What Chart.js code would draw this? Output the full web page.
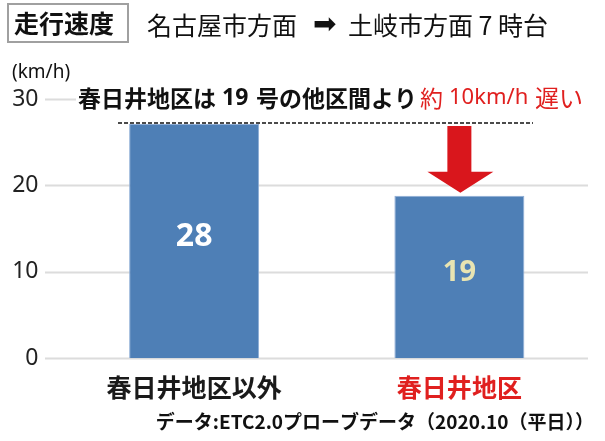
<!DOCTYPE html>
<html>
<head>
<meta charset="utf-8">
<script src="https://cdn.jsdelivr.net/npm/chart.js@4"></script>
<style>
  html, body { margin: 0; padding: 0; background: #fff; }
  #wrap { width: 605px; height: 441px; position: relative; }
</style>
</head>
<body>
<div id="wrap"><canvas id="c" width="605" height="441"></canvas></div>
<script>
// 走行速度: 名古屋市方面 → 土岐市方面 7時台

const categories = ["春日井地区以外", "春日井地区"];
const speeds = [27.1, 18.8];          // km/h, as drawn
const speedLabels = ["28", "19"];     // printed inside the bars
const yTicks = [0, 10, 20, 30];

const JP = '"Noto Sans CJK JP", "DejaVu Sans", sans-serif';
const NUM = '"Noto Sans", "Open Sans", sans-serif';
const BAR = "#4e7fb6";
const RED = "#e0201f";
const catColors = ["#1a1a1a", RED];
const labelColors = ["#ffffff", "#e8e4b2"];

// annotation pieces: [text, x, font, colour]
const note = [
  ["春日井地区は", 78, `bold 23px ${JP}`, "#111"],
  ["19", 222, `bold 23px ${NUM}`, "#111"],
  ["号の他区間より", 256, `bold 23px ${JP}`, "#111"],
  ["約", 420, `23px ${JP}`, RED],
  ["10km/h", 449, `22px ${NUM}`, RED],
  ["遅い", 535, `24px ${JP}`, RED]
];

const deco = {
  id: "deco",
  beforeDatasetsDraw(chart) {
    const { ctx, scales: { y } } = chart;
    ctx.save();
    ctx.strokeStyle = "#dcdcdc";
    ctx.lineWidth = 2;
    yTicks.forEach(v => {
      const py = Math.round(y.getPixelForValue(v)) + 0.5;
      ctx.beginPath(); ctx.moveTo(45, py); ctx.lineTo(588, py); ctx.stroke();
    });
    ctx.restore();
  },
  afterDatasetsDraw(chart) {
    const { ctx, scales: { y } } = chart;
    const meta = chart.getDatasetMeta(0);
    ctx.save();

    // values inside bars
    ctx.textAlign = "center";
    ctx.textBaseline = "middle";
    meta.data.forEach((b, i) => {
      ctx.fillStyle = labelColors[i];
      ctx.font = `bold ${i === 0 ? 32 : 29}px ${NUM}`;
      ctx.fillText(speedLabels[i], b.x, (b.y + b.base) / 2 - 4);
    });

    // dashed reference line at the first bar's level
    const refY = meta.data[0].y - 1;
    ctx.strokeStyle = "#111";
    ctx.lineWidth = 1.5;
    ctx.setLineDash([4, 2]);
    ctx.beginPath(); ctx.moveTo(118, refY); ctx.lineTo(533, refY); ctx.stroke();
    ctx.setLineDash([]);

    // red arrow down to the second bar
    const b2 = meta.data[1];
    const top = refY + 3, tip = b2.y - 3, headTop = tip - 21;
    ctx.fillStyle = "#d9161c";
    ctx.beginPath();
    ctx.moveTo(b2.x - 12, top);
    ctx.lineTo(b2.x + 12, top);
    ctx.lineTo(b2.x + 12, headTop);
    ctx.lineTo(b2.x + 34, headTop);
    ctx.lineTo(b2.x + 1, tip);
    ctx.lineTo(b2.x - 32, headTop);
    ctx.lineTo(b2.x - 12, headTop);
    ctx.closePath();
    ctx.fill();

    // annotation over the 30 line
    const ay = y.getPixelForValue(30) - 1;
    ctx.fillStyle = "#fff";
    ctx.fillRect(76, ay - 12, 530, 24);
    ctx.textAlign = "left";
    note.forEach(([t, x, f, c]) => {
      ctx.font = f;
      ctx.fillStyle = c;
      ctx.fillText(t, x, ay);
    });

    // title box
    ctx.strokeStyle = "#a0a0a0";
    ctx.lineWidth = 2;
    ctx.strokeRect(8, 4, 120, 38);
    ctx.fillStyle = "#111";
    ctx.font = `bold 25px ${JP}`;
    ctx.fillText("走行速度", 14, 23);
    ctx.font = `25px ${JP}`;
    ctx.fillText("名古屋市方面", 147, 25);
    ctx.font = `28px "DejaVu Sans", sans-serif`;
    ctx.fillText("➡", 313, 26);
    ctx.font = `25px ${JP}`;
    ctx.fillText("土岐市方面 7 時台", 348, 25);

    // unit
    ctx.font = `19px ${NUM}`;
    ctx.fillText("(km/h)", 12, 73);

    // source
    ctx.textAlign = "right";
    ctx.font = `bold 19px ${JP}`;
    ctx.fillText("データ:ETC2.0プローブデータ（2020.10（平日））", 594, 422);
    ctx.restore();
  }
};

new Chart(document.getElementById("c"), {
  type: "bar",
  data: {
    labels: categories,
    datasets: [{
      data: speeds,
      backgroundColor: BAR,
      borderColor: "#8eadd6",
      borderWidth: 1,
      categoryPercentage: 1,
      barPercentage: 0.49
    }]
  },
  options: {
    responsive: false,
    animation: false,
    layout: { padding: { top: 99, right: 13, left: 0, bottom: 0 } },
    plugins: { legend: { display: false }, tooltip: { enabled: false } },
    scales: {
      x: {
        grid: { display: false, drawTicks: false },
        border: { display: false },
        ticks: {
          padding: 14,
          font: { family: JP, size: 25, weight: "bold" },
          color: (c) => catColors[c.index]
        },
        afterFit: (s) => { s.height = 82.7; }
      },
      y: {
        min: 0, max: 30,
        grid: { display: false, drawTicks: false },
        border: { display: false },
        ticks: {
          stepSize: 10,
          padding: 23,
          font: { family: NUM, size: 23 },
          color: "#222"
        },
        afterFit: (s) => { s.width = 61.5; }
      }
    }
  },
  plugins: [deco]
});
</script>
</body>
</html>
